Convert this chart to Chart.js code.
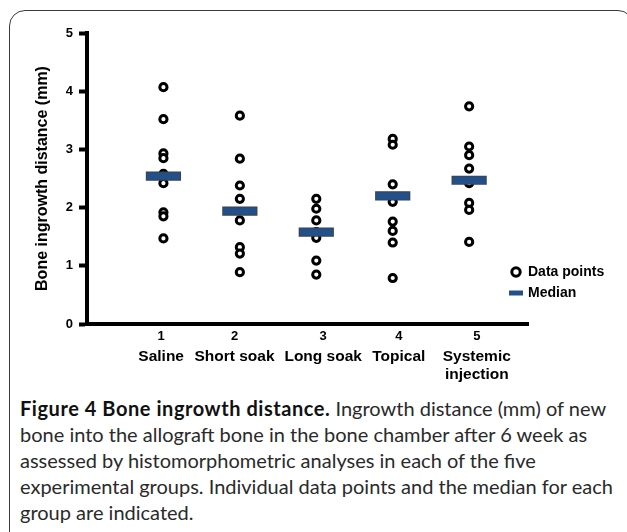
<!DOCTYPE html>
<html>
<head>
<meta charset="utf-8">
<script src="https://cdn.jsdelivr.net/npm/chart.js@4"></script>
<style>
html,body{margin:0;padding:0;background:#fff;width:627px;height:532px;overflow:hidden;}
#frame{position:absolute;left:9px;top:10px;width:625px;height:580px;border:1.6px solid #3a3a3a;border-radius:16px;box-sizing:border-box;}
#wrap{position:absolute;left:0;top:0;width:627px;height:390px;}
#cap{position:absolute;left:20px;top:395px;font-family:"Lato","Open Sans",sans-serif;font-size:20px;line-height:26px;color:#2a2a2a;white-space:nowrap;}
#cap b{color:#111;letter-spacing:0.55px;}
</style>
</head>
<body>
<div id="frame"></div>
<div id="wrap"><canvas id="c"></canvas></div>
<div id="cap"><b>Figure 4 Bone ingrowth distance.</b> Ingrowth distance (mm) of new<br>bone into the allograft bone in the bone chamber after 6 week as<br>assessed by histomorphometric analyses in each of the five<br>experimental groups. Individual data points and the median for each<br>group are indicated.</div>
<script>
// ---- data ----
const groupNumbers = ['1', '2', '3', '4', '5'];
const categories = ['Saline', 'Short soak', 'Long soak', 'Topical', 'Systemic\ninjection'];
const saline    = [4.07, 3.52, 2.93, 2.85, 2.58, 2.42, 1.92, 1.85, 1.47];
const shortSoak = [3.58, 2.84, 2.38, 2.15, 1.78, 1.32, 1.21, 0.89];
const longSoak  = [2.15, 1.98, 1.78, 1.58, 1.48, 1.09, 0.85];
const topical   = [3.18, 3.08, 2.40, 2.10, 1.76, 1.60, 1.40, 0.79];
const systemic  = [3.74, 3.05, 2.90, 2.67, 2.42, 2.08, 1.96, 1.41];
const medians   = [2.54, 1.94, 1.58, 2.20, 2.47];
const yTicks    = [0, 1, 2, 3, 4, 5];
const yTitle = 'Bone ingrowth distance (mm)';
const legendLabels = ['Data points', 'Median'];

const groups = [saline, shortSoak, longSoak, topical, systemic];
const pointData = [];
groups.forEach((vals, i) => vals.forEach(v => pointData.push({x: i + 1, y: v})));
const medianData = medians.map((v, i) => ({x: i + 1, y: v}));

const NAVY = '#24508a';
const FONT = '"Liberation Sans", Arial, sans-serif';
// small horizontal nudges of the category label row (as typeset in the original figure)
const LABEL_NUDGE = [-0.03, -0.07, 0.09, 0.08, 0.1];

const legendPlugin = {
  id: 'sideLegend',
  afterDraw(chart) {
    const ctx = chart.ctx, ca = chart.chartArea;
    const r1 = ca.bottom - 52, r2 = ca.bottom - 31;
    const tx = ca.right;
    ctx.save();
    ctx.beginPath();
    ctx.arc(tx - 12, r1, 4.2, 0, Math.PI * 2);
    ctx.fillStyle = '#fff'; ctx.fill();
    ctx.lineWidth = 3; ctx.strokeStyle = '#000'; ctx.stroke();
    ctx.fillStyle = NAVY;
    ctx.fillRect(tx - 19, r2 - 2.5, 14, 5);
    ctx.fillStyle = '#000';
    ctx.font = 'bold 14px ' + FONT;
    ctx.textBaseline = 'middle';
    ctx.textAlign = 'left';
    ctx.fillText(legendLabels[0], tx, r1);
    ctx.fillText(legendLabels[1], tx, r2);
    ctx.restore();
  }
};

const setTicks = s => { s.ticks = groupNumbers.map((n, i) => ({value: i + 1 + LABEL_NUDGE[i]})); };
const idxOf = v => Math.round(v) - 1;

new Chart(document.getElementById('c'), {
  type: 'scatter',
  data: {
    datasets: [
      { label: legendLabels[1], data: medianData, pointStyle: 'line', pointRadius: 16.7,
        pointBorderWidth: 7.4, borderColor: NAVY, backgroundColor: NAVY, clip: false },
      { label: 'median-edge', data: medianData, pointStyle: 'line', pointRadius: 17.6,
        pointBorderWidth: 9.2, borderColor: '#3b3f48', backgroundColor: '#3b3f48', clip: false },
      { label: legendLabels[0], data: pointData, pointStyle: 'circle', pointRadius: 3.6,
        pointBorderWidth: 3, borderColor: '#000', backgroundColor: '#fff', clip: false }
    ]
  },
  options: {
    responsive: true,
    maintainAspectRatio: false,
    animation: false,
    events: [],
    layout: { padding: { left: 25, top: 33, right: 99, bottom: 2 } },
    plugins: { legend: { display: false }, tooltip: { enabled: false } },
    scales: {
      x: {
        type: 'linear', position: 'bottom', min: 0, max: 5.77, weight: 0,
        afterBuildTicks: setTicks,
        afterFit: s => { s.height = 22; },
        grid: { display: false, drawTicks: false },
        border: { display: true, color: '#000', width: 4 },
        ticks: { autoSkip: false, maxRotation: 0, padding: 5, color: '#000',
          font: { family: FONT, size: 13, weight: 'bold' },
          callback: (v) => groupNumbers[idxOf(v)] }
      },
      x2: {
        type: 'linear', position: 'bottom', min: 0, max: 5.77, weight: 1,
        afterBuildTicks: setTicks,
        afterFit: s => { s.height = 42; },
        grid: { display: false, drawTicks: false },
        border: { display: false },
        ticks: { autoSkip: false, maxRotation: 0, padding: 2.5, color: '#000',
          font: { family: FONT, size: 15.5, weight: 'bold', lineHeight: 1.12 },
          callback: (v) => categories[idxOf(v)].split('\n') }
      },
      y: {
        min: 0, max: 5,
        afterBuildTicks: s => { s.ticks = yTicks.map(v => ({value: v})); },
        afterFit: s => { s.width = 62; },
        grid: { display: true, drawOnChartArea: false, drawTicks: true, tickLength: 8, tickWidth: 4, tickColor: '#000', color: '#000' },
        border: { display: true, color: '#000', width: 4 },
        ticks: { padding: 6, color: '#000', font: { family: FONT, size: 13, weight: 'bold' } },
        title: { display: true, text: yTitle, color: '#000', padding: { top: 8, bottom: 0 },
          font: { family: FONT, size: 16, weight: 'bold' } }
      }
    }
  },
  plugins: [legendPlugin]
});
</script>
</body>
</html>
